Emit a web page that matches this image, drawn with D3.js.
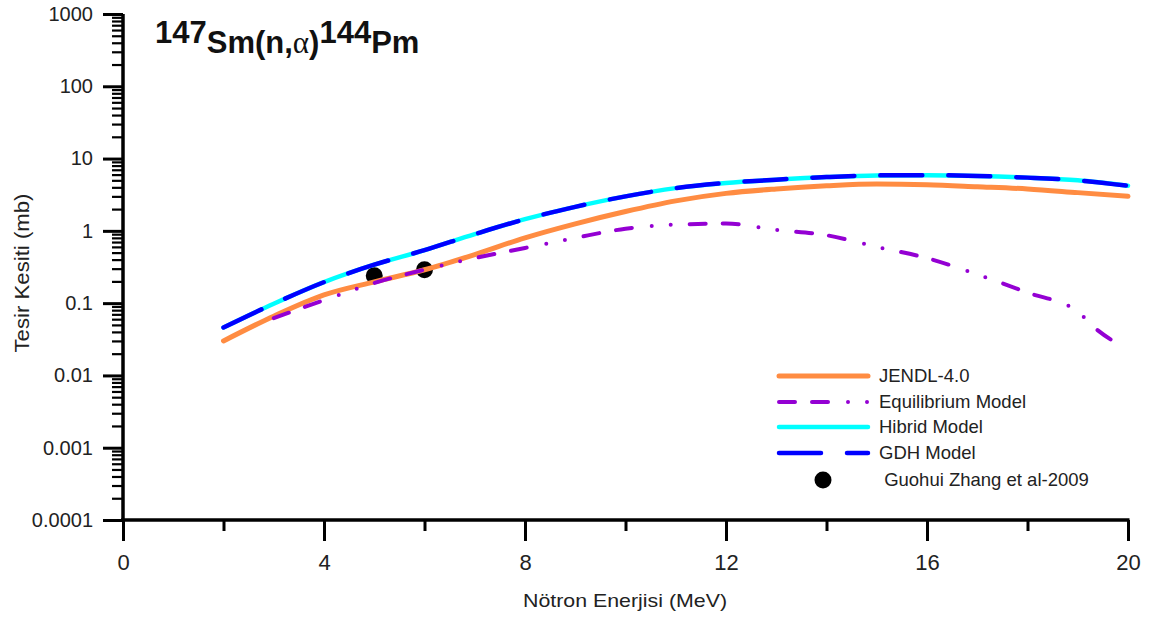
<!DOCTYPE html>
<html>
<head>
<meta charset="utf-8">
<script src="https://cdn.jsdelivr.net/npm/d3@7"></script>
<style>
  html, body { margin: 0; padding: 0; background: #fff; }
  svg { display: block; font-family: "Liberation Sans", Arial, sans-serif; }
</style>
</head>
<body>
<svg id="chart" width="1152" height="619"></svg>
<script>
// Neutron energies (MeV) on which the model cross sections are tabulated
const energies = [2, 3, 4, 5, 6, 7, 8, 9, 10, 11, 12, 13, 14, 15, 16, 17, 18, 19, 20];

// 147Sm(n,alpha)144Pm cross sections in mb
const jendl   = [0.030, 0.066, 0.13, 0.197, 0.29, 0.47, 0.80, 1.25, 1.85, 2.6, 3.3, 3.8, 4.2, 4.45, 4.35, 4.08, 3.8, 3.38, 3.0];
const hibrid  = [0.046, 0.098, 0.195, 0.34, 0.54, 0.9, 1.45, 2.15, 3.0, 3.9, 4.6, 5.1, 5.55, 5.85, 5.9, 5.75, 5.45, 5.0, 4.2];
const gdh     = [0.046, 0.098, 0.195, 0.34, 0.54, 0.9, 1.45, 2.15, 3.0, 3.9, 4.6, 5.1, 5.55, 5.85, 5.9, 5.75, 5.45, 5.0, 4.2];

const eqEnergies = [3, 4, 5, 6, 7, 8, 9, 10, 11, 12, 13, 14, 15, 16, 17, 18, 19, 19.4, 19.85];
const equilibrium = [0.062, 0.11, 0.19, 0.29, 0.42, 0.58, 0.8, 1.07, 1.22, 1.26, 1.03, 0.87, 0.6, 0.42, 0.25, 0.14, 0.076, 0.042, 0.026];

// Measured values (Guohui Zhang et al., 2009)
const expEnergies = [5, 6];
const expValues   = [0.24, 0.29];

const xTicks = [0, 4, 8, 12, 16, 20];
const xMinorTicks = [2, 6, 10, 14, 18];
const yTicks = [1e-4, 1e-3, 1e-2, 1e-1, 1, 10, 100, 1000];
const yTickLabels = ["0.0001", "0.001", "0.01", "0.1", "1", "10", "100", "1000"];

const legendLabels = ["JENDL-4.0", "Equilibrium Model", "Hibrid Model", "GDH Model", " Guohui Zhang et al-2009"];

const svg = d3.select("#chart");

const x = d3.scaleLinear().domain([0, 20]).range([123, 1128]);
const y = d3.scaleLog().domain([1e-4, 1e3]).range([520, 14]);

// ---- axes ----
const yMinor = [];
for (let p = -4; p < 3; p++) {
  for (let k = 2; k <= 9; k++) yMinor.push(k * Math.pow(10, p));
}

const gy = svg.append("g").attr("transform", `translate(${x(0)},0)`);
gy.call(d3.axisLeft(y).tickValues(yMinor).tickSize(11).tickFormat(""))
  .call(g => g.select(".domain").remove())
  .call(g => g.selectAll("line").attr("stroke", "#000").attr("stroke-width", 2.2));
gy.append("g")
  .call(d3.axisLeft(y).tickValues(yTicks).tickSize(20).tickPadding(10)
    .tickFormat((d, i) => yTickLabels[i]))
  .call(g => g.select(".domain").remove())
  .call(g => g.selectAll("line").attr("stroke", "#000").attr("stroke-width", 3))
  .call(g => g.selectAll("text").attr("font-size", 20).attr("fill", "#222")
    .attr("font-family", "Liberation Sans, Arial, sans-serif"));

const gx = svg.append("g").attr("transform", `translate(0,${y(1e-4)})`);
gx.call(d3.axisBottom(x).tickValues(xMinorTicks).tickSize(11).tickFormat(""))
  .call(g => g.select(".domain").remove())
  .call(g => g.selectAll("line").attr("stroke", "#000").attr("stroke-width", 3));
gx.append("g")
  .call(d3.axisBottom(x).tickValues(xTicks).tickSize(21).tickPadding(13).tickFormat(d3.format("d")))
  .call(g => g.select(".domain").remove())
  .call(g => g.selectAll("line").attr("stroke", "#000").attr("stroke-width", 3))
  .call(g => g.selectAll("text").attr("font-size", 22).attr("fill", "#222")
    .attr("font-family", "Liberation Sans, Arial, sans-serif"));

// axis lines
svg.append("line").attr("x1", x(0)).attr("x2", x(0)).attr("y1", y(1000)).attr("y2", y(1e-4))
  .attr("stroke", "#000").attr("stroke-width", 3.5);
svg.append("line").attr("x1", x(0) - 2).attr("x2", x(20) + 1.5).attr("y1", y(1e-4)).attr("y2", y(1e-4))
  .attr("stroke", "#000").attr("stroke-width", 3.5);

// axis titles
svg.append("text")
  .attr("x", 625).attr("y", 607).attr("text-anchor", "middle")
  .attr("font-size", 19).attr("fill", "#222")
  .attr("textLength", 204).attr("lengthAdjust", "spacingAndGlyphs")
  .text("Nötron Enerjisi (MeV)");
svg.append("text")
  .attr("transform", "translate(29,273) rotate(-90)")
  .attr("text-anchor", "middle")
  .attr("font-size", 21).attr("fill", "#222")
  .attr("textLength", 159).attr("lengthAdjust", "spacingAndGlyphs")
  .text("Tesir Kesiti (mb)");

// ---- series ----
const line = d3.line()
  .x(d => x(d[0]))
  .y(d => y(d[1]))
  .curve(d3.curveMonotoneX);

const zip = (xs, ys) => xs.map((v, i) => [v, ys[i]]);

const styles = {
  jendl: { color: "#FF8C42", width: 5, dash: null },
  equilibrium: { color: "#9400D3", width: 4, dash: "16,17,16,20,0,19,0,19" },
  hibrid: { color: "#00FFFF", width: 4.5, dash: null },
  gdh: { color: "#0000FF", width: 4.5, dash: "42,26" }
};

const plot = svg.append("g");

plot.selectAll("circle.exp")
  .data(zip(expEnergies, expValues))
  .join("circle")
  .attr("class", "exp")
  .attr("cx", d => x(d[0]))
  .attr("cy", d => y(d[1]))
  .attr("r", 8.5)
  .attr("fill", "#000");

function drawSeries(data, s) {
  plot.append("path")
    .datum(data)
    .attr("d", line)
    .attr("fill", "none")
    .attr("stroke", s.color)
    .attr("stroke-width", s.width)
    .attr("stroke-linecap", "round")
    .attr("stroke-linejoin", "round")
    .attr("stroke-dasharray", s.dash);
}

drawSeries(zip(energies, hibrid), styles.hibrid);
drawSeries(zip(energies, gdh), styles.gdh);
drawSeries(zip(energies, jendl), styles.jendl);
drawSeries(zip(eqEnergies, equilibrium), styles.equilibrium);

// ---- title ----
const title = svg.append("text")
  .attr("x", 155).attr("y", 53)
  .attr("font-size", 31).attr("font-weight", "bold").attr("fill", "#111");
title.append("tspan").attr("dy", -10).text("147");
title.append("tspan").attr("dy", 10).text("Sm(n,");
title.append("tspan").attr("font-family", "Liberation Serif, serif").attr("font-weight", "normal").text("α");
title.append("tspan").text(")");
title.append("tspan").attr("dy", -10).text("144");
title.append("tspan").attr("dy", 10).text("Pm");

// ---- legend ----
const legendRows = [
  { label: legendLabels[0], s: styles.jendl },
  { label: legendLabels[1], s: styles.equilibrium },
  { label: legendLabels[2], s: styles.hibrid },
  { label: legendLabels[3], s: styles.gdh }
];
const legendY = [376, 402, 427, 453, 480];
const legend = svg.append("g");
legendRows.forEach((r, i) => {
  legend.append("line")
    .attr("x1", 779).attr("x2", 868)
    .attr("y1", legendY[i]).attr("y2", legendY[i])
    .attr("stroke", r.s.color).attr("stroke-width", r.s.width)
    .attr("stroke-linecap", "round")
    .attr("stroke-dasharray", r.s.dash);
  legend.append("text")
    .attr("x", 879).attr("y", legendY[i]).attr("dy", "0.35em")
    .attr("font-size", 18.5).attr("fill", "#222")
    .text(r.label);
});
legend.append("circle").attr("cx", 823).attr("cy", legendY[4]).attr("r", 8.5).attr("fill", "#000");
legend.append("text")
  .attr("x", 879).attr("y", legendY[4]).attr("dy", "0.35em")
  .attr("font-size", 18.5).attr("fill", "#222").attr("xml:space", "preserve")
  .text(legendLabels[4]);
</script>
</body>
</html>
